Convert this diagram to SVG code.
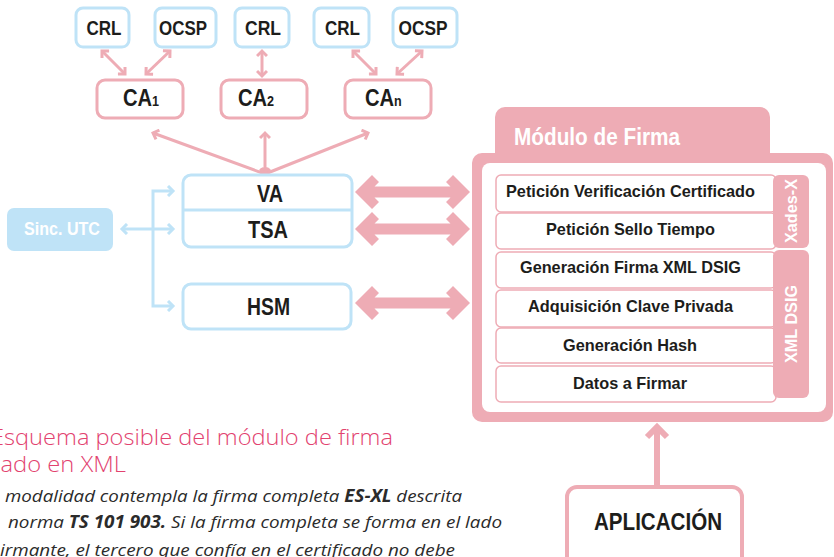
<svg xmlns="http://www.w3.org/2000/svg" width="834" height="557" viewBox="0 0 834 557">
<style>
.bb{fill:#fff;stroke:#bfe3f7;stroke-width:3}
.pb{fill:#fff;stroke:#eeacb5;stroke-width:3}
.t{font-family:"Liberation Sans",Arial,sans-serif;font-weight:bold;fill:#1d1d1b}
.w{font-family:"Liberation Sans",Arial,sans-serif;font-weight:bold;fill:#fff}
.row{fill:#fff;stroke:#eeacb5;stroke-width:1.5}
.pl{fill:none;stroke:#eeacb5;stroke-width:3}
.bl{fill:none;stroke:#bfe3f7;stroke-width:3}
.big{fill:#eeacb5}
.cap{font-family:"Open Sans","Liberation Sans",sans-serif;font-weight:300;fill:#e2426f;font-size:22px}
.body{font-family:"Open Sans","Liberation Sans",sans-serif;font-style:italic;fill:#2b2b2b;font-size:17px}
</style>
<defs>
<marker id="pa" viewBox="0 0 12 12" refX="9" refY="6" markerWidth="12" markerHeight="12" markerUnits="userSpaceOnUse" orient="auto-start-reverse">
<path d="M4,1 L9,6 L4,11" fill="none" stroke="#eeacb5" stroke-width="3"/>
</marker>
<marker id="ba" viewBox="0 0 12 12" refX="9" refY="6" markerWidth="12" markerHeight="12" markerUnits="userSpaceOnUse" orient="auto-start-reverse">
<path d="M4,1 L9,6 L4,11" fill="none" stroke="#bfe3f7" stroke-width="3"/>
</marker>
</defs>

<g id="connectors">
<line class="pl" x1="102" y1="51" x2="125" y2="74" marker-start="url(#pa)" marker-end="url(#pa)"/>
<line class="pl" x1="170" y1="51" x2="146" y2="74" marker-start="url(#pa)" marker-end="url(#pa)"/>
<line class="pl" x1="262" y1="51" x2="262" y2="76" marker-start="url(#pa)" marker-end="url(#pa)"/>
<line class="pl" x1="353" y1="51" x2="376" y2="74" marker-start="url(#pa)" marker-end="url(#pa)"/>
<line class="pl" x1="422" y1="51" x2="397" y2="74" marker-start="url(#pa)" marker-end="url(#pa)"/>
<line class="pl" x1="265" y1="174" x2="153" y2="133" marker-start="url(#pa)" marker-end="url(#pa)"/>
<line class="pl" x1="265" y1="174" x2="265" y2="133" marker-start="url(#pa)" marker-end="url(#pa)"/>
<line class="pl" x1="265" y1="174" x2="368" y2="133" marker-start="url(#pa)" marker-end="url(#pa)"/>
<polyline class="bl" points="173,191 153,191 153,306 173,306" marker-start="url(#ba)" marker-end="url(#ba)"/>
<line class="bl" x1="122" y1="229" x2="173" y2="229" marker-start="url(#ba)" marker-end="url(#ba)"/>
<polygon class="big" points="355,192 372,175 379,182 374.5,186.5 450.5,186.5 446,182 453,175 470,192 453,209 446,202 450.5,197.5 374.5,197.5 379,202 372,209"/>
<polygon class="big" points="355,229 372,212 379,219 374.5,223.5 450.5,223.5 446,219 453,212 470,229 453,246 446,239 450.5,234.5 374.5,234.5 379,239 372,246"/>
<polygon class="big" points="355,303 372,286 379,293 374.5,297.5 450.5,297.5 446,293 453,286 470,303 453,320 446,313 450.5,308.5 374.5,308.5 379,313 372,320"/>
<line x1="657" y1="429" x2="657" y2="488" stroke="#eeacb5" stroke-width="6"/>
<polyline points="647,437 657,427 667,437" fill="none" stroke="#eeacb5" stroke-width="6"/>
</g>

<g id="crl1"><rect class="bb" x="76" y="8" width="53" height="39" rx="7"/><text class="t" x="104" y="35" font-size="19.5" text-anchor="middle" textLength="35" lengthAdjust="spacingAndGlyphs">CRL</text></g>
<g id="ocsp1"><rect class="bb" x="155" y="8" width="61" height="39" rx="7"/><text class="t" x="183" y="35" font-size="19.5" text-anchor="middle" textLength="48" lengthAdjust="spacingAndGlyphs">OCSP</text></g>
<g id="crl2"><rect class="bb" x="235" y="8" width="54" height="39" rx="7"/><text class="t" x="263" y="35" font-size="19.5" text-anchor="middle" textLength="36" lengthAdjust="spacingAndGlyphs">CRL</text></g>
<g id="crl3"><rect class="bb" x="314" y="8" width="55" height="39" rx="7"/><text class="t" x="342.5" y="35" font-size="19.5" text-anchor="middle" textLength="35" lengthAdjust="spacingAndGlyphs">CRL</text></g>
<g id="ocsp3"><rect class="bb" x="393" y="8" width="64" height="39" rx="7"/><text class="t" x="423" y="35" font-size="19.5" text-anchor="middle" textLength="49" lengthAdjust="spacingAndGlyphs">OCSP</text></g>

<g id="ca1"><rect class="pb" x="97" y="80" width="86" height="38" rx="8"/><text class="t" transform="translate(123,106) scale(0.84,1)" font-size="24">CA<tspan font-size="15">1</tspan></text></g>
<g id="ca2"><rect class="pb" x="221" y="80" width="86" height="38" rx="8"/><text class="t" transform="translate(238,106) scale(0.84,1)" font-size="24">CA<tspan font-size="15">2</tspan></text></g>
<g id="can"><rect class="pb" x="345" y="80" width="86" height="38" rx="8"/><text class="t" transform="translate(365,106) scale(0.84,1)" font-size="24">CA<tspan font-size="15">n</tspan></text></g>

<g id="sinc"><rect x="7" y="208" width="106" height="43" rx="7" fill="#bfe3f7"/><text class="w" x="62" y="235" font-size="18" text-anchor="middle" textLength="76" lengthAdjust="spacingAndGlyphs">Sinc. UTC</text></g>

<g id="va-tsa"><rect class="bb" x="183" y="175" width="169" height="72" rx="8"/><line x1="183" y1="210" x2="352" y2="210" stroke="#bfe3f7" stroke-width="3"/>
<text class="t" x="270" y="202" font-size="24" text-anchor="middle" textLength="26" lengthAdjust="spacingAndGlyphs">VA</text>
<text class="t" x="268" y="238" font-size="24" text-anchor="middle" textLength="40" lengthAdjust="spacingAndGlyphs">TSA</text></g>
<g id="hsm"><rect class="bb" x="183" y="284" width="168" height="45" rx="8"/><text class="t" x="268.5" y="315" font-size="24" text-anchor="middle" textLength="43" lengthAdjust="spacingAndGlyphs">HSM</text></g>

<g id="modulo">
<rect x="495" y="107" width="275" height="60" rx="10" fill="#eeacb5"/>
<rect x="472" y="153" width="361" height="269" rx="10" fill="#eeacb5"/>
<rect x="482" y="163" width="344" height="249" rx="8" fill="#fff"/>
<text class="w" x="514" y="145" font-size="23" textLength="166" lengthAdjust="spacingAndGlyphs">Módulo de Firma</text>
<rect class="row" x="496" y="175" width="280" height="37" rx="5"/>
<rect class="row" x="496" y="213" width="280" height="36" rx="5"/>
<rect class="row" x="496" y="252" width="280" height="36" rx="5"/>
<rect class="row" x="496" y="290" width="280" height="37" rx="5"/>
<rect class="row" x="496" y="328" width="280" height="35" rx="5"/>
<rect class="row" x="496" y="366" width="280" height="36" rx="5"/>
<text class="t" x="630.5" y="197" font-size="16.5" text-anchor="middle" textLength="249" lengthAdjust="spacingAndGlyphs">Petición Verificación Certificado</text>
<text class="t" x="630.5" y="235" font-size="16.5" text-anchor="middle" textLength="169" lengthAdjust="spacingAndGlyphs">Petición Sello Tiempo</text>
<text class="t" x="630.5" y="273" font-size="16.5" text-anchor="middle" textLength="221" lengthAdjust="spacingAndGlyphs">Generación Firma XML DSIG</text>
<text class="t" x="630.5" y="312" font-size="16.5" text-anchor="middle" textLength="205" lengthAdjust="spacingAndGlyphs">Adquisición Clave Privada</text>
<text class="t" x="630" y="351" font-size="16.5" text-anchor="middle" textLength="134" lengthAdjust="spacingAndGlyphs">Generación Hash</text>
<text class="t" x="630" y="389" font-size="16.5" text-anchor="middle" textLength="114" lengthAdjust="spacingAndGlyphs">Datos a Firmar</text>
</g>
<g id="xades"><rect x="773" y="175" width="36" height="73" rx="6" fill="#eeacb5"/><text class="w" transform="translate(797,211) rotate(-90)" font-size="16.5" text-anchor="middle" textLength="64" lengthAdjust="spacingAndGlyphs">Xades-X</text></g>
<g id="xmldsig"><rect x="773" y="250" width="36" height="148" rx="6" fill="#eeacb5"/><text class="w" transform="translate(797,324) rotate(-90)" font-size="16.5" text-anchor="middle" textLength="78" lengthAdjust="spacingAndGlyphs">XML DSIG</text></g>

<g id="aplicacion"><rect x="567" y="487" width="175" height="90" rx="10" fill="#fff" stroke="#eeacb5" stroke-width="4"/><text class="t" x="658" y="530" font-size="24" text-anchor="middle" textLength="128" lengthAdjust="spacingAndGlyphs">APLICACIÓN</text></g>

<g id="caption">
<text class="cap" x="-9" y="445" textLength="402" lengthAdjust="spacingAndGlyphs">Esquema posible del módulo de firma</text>
<text class="cap" x="0.5" y="472" textLength="125.5" lengthAdjust="spacingAndGlyphs">ado en XML</text>
<text class="body" x="5" y="502" textLength="457" lengthAdjust="spacingAndGlyphs">modalidad contempla la firma completa <tspan font-weight="bold">ES-XL</tspan> descrita</text>
<text class="body" x="8" y="528" textLength="494" lengthAdjust="spacingAndGlyphs">norma <tspan font-weight="bold">TS 101 903.</tspan> Si la firma completa se forma en el lado</text>
<text class="body" x="0" y="556" textLength="455" lengthAdjust="spacingAndGlyphs">irmante, el tercero que confía en el certificado no debe</text>
</g>
</svg>
